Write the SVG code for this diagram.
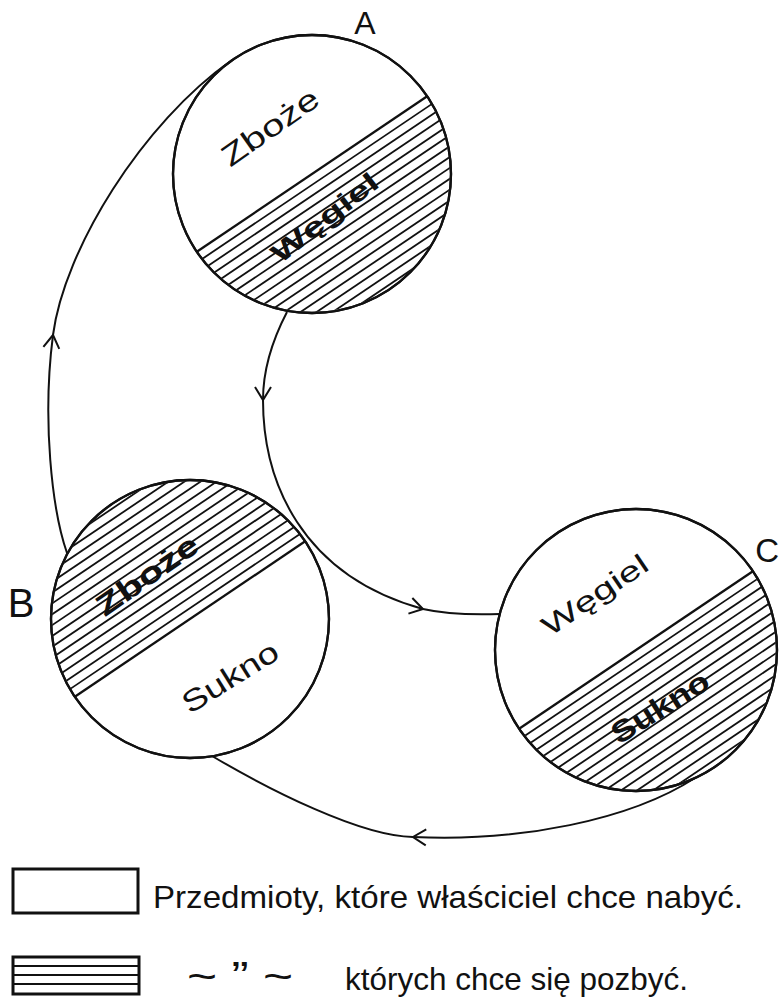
<svg xmlns="http://www.w3.org/2000/svg" width="782" height="1005" viewBox="0 0 782 1005">
<defs>
<style>
.circ{fill:#fff;stroke:#111;stroke-width:2.3}
.ring{fill:none;stroke:#111;stroke-width:2.3}
.hl line{stroke:#111;stroke-width:1.8}
.div{stroke:#111;stroke-width:2.3;fill:none}
.conn{fill:none;stroke:#111;stroke-width:2}
.lbl{font-family:"Liberation Sans",Arial,sans-serif;fill:#111;text-anchor:middle;dominant-baseline:central}
.lbl.b{font-weight:bold}
.cap{font-family:"Liberation Sans",Arial,sans-serif;fill:#111}
.leg{fill:#fff;stroke:#111;stroke-width:3}
.legl{stroke:#111;stroke-width:2.2}
</style>
<clipPath id="clip139"><circle cx="0" cy="0" r="138"/></clipPath>
<clipPath id="clip141"><circle cx="0" cy="0" r="140"/></clipPath>
<g id="hl" class="hl">
<line x1="-145" y1="9" x2="145" y2="9"/>
<line x1="-145" y1="18" x2="145" y2="18"/>
<line x1="-145" y1="27" x2="145" y2="27"/>
<line x1="-145" y1="36" x2="145" y2="36"/>
<line x1="-145" y1="45" x2="145" y2="45"/>
<line x1="-145" y1="54" x2="145" y2="54"/>
<line x1="-145" y1="63" x2="145" y2="63"/>
<line x1="-145" y1="72" x2="145" y2="72"/>
<line x1="-145" y1="81" x2="145" y2="81"/>
<line x1="-145" y1="90" x2="145" y2="90"/>
<line x1="-145" y1="99" x2="145" y2="99"/>
<line x1="-145" y1="108" x2="145" y2="108"/>
<line x1="-145" y1="117" x2="145" y2="117"/>
<line x1="-145" y1="126" x2="145" y2="126"/>
<line x1="-145" y1="135" x2="145" y2="135"/>
</g>
<marker id="chev" markerUnits="userSpaceOnUse" viewBox="-16 -10 20 20" markerWidth="20" markerHeight="20" refX="0" refY="0" orient="auto">
<path d="M -13 -8 L 0 0 L -13 8" fill="none" stroke="#111" stroke-width="2"/>
</marker>
</defs>

<g id="connectors">
<path id="edge-B-A" class="conn" marker-mid="url(#chev)" d="M 67 553 C 52 510, 42 420, 53 335 C 64 250, 142 123, 232 60"/>
<path id="edge-A-C" class="conn" marker-mid="url(#chev)" d="M 287 312 C 275 335, 263 365, 263 400 C 263 480, 300 575, 423 609 C 445 614, 470 615, 500 614"/>
<path id="edge-C-B" class="conn" marker-mid="url(#chev)" d="M 695 778 C 630 820, 520 842, 413 837 C 360 836, 270 790, 212 756"/>
</g>

<g id="node-A">
<circle class="circ" cx="312" cy="174" r="139"/>
<g transform="translate(312 174) rotate(-34)" clip-path="url(#clip139)"><use href="#hl"/></g>
<line class="div" x1="196.8" y1="251.7" x2="427.2" y2="96.3"/>
<circle class="ring" cx="312" cy="174" r="139"/>
<text class="lbl" x="270" y="127" font-size="30" textLength="112" lengthAdjust="spacingAndGlyphs" transform="rotate(-35 270 127)">Zboże</text>
<text class="lbl b" x="325" y="218" font-size="27" textLength="128" lengthAdjust="spacingAndGlyphs" transform="rotate(-38 325 218)">Węgiel</text>
<text class="cap" x="365" y="34" font-size="32" text-anchor="middle">A</text>
</g>

<g id="node-B">
<circle class="circ" cx="190" cy="619" r="139"/>
<g transform="translate(190 619) rotate(146)" clip-path="url(#clip139)"><use href="#hl"/></g>
<line class="div" x1="74.8" y1="696.7" x2="305.2" y2="541.3"/>
<circle class="ring" cx="190" cy="619" r="139"/>
<text class="lbl b" x="147" y="575" font-size="30" textLength="118" lengthAdjust="spacingAndGlyphs" transform="rotate(-35 147 575)">Zboże</text>
<text class="lbl" x="230" y="677" font-size="30" textLength="108" lengthAdjust="spacingAndGlyphs" transform="rotate(-32 230 677)">Sukno</text>
<text class="cap" x="21" y="617" font-size="40" text-anchor="middle">B</text>
</g>

<g id="node-C">
<circle class="circ" cx="636" cy="650" r="141"/>
<g transform="translate(636 650) rotate(-34)" clip-path="url(#clip141)"><use href="#hl"/></g>
<line class="div" x1="519.1" y1="728.8" x2="752.9" y2="571.2"/>
<circle class="ring" cx="636" cy="650" r="141"/>
<text class="lbl" x="595" y="595" font-size="28" textLength="122" lengthAdjust="spacingAndGlyphs" transform="rotate(-34 595 595)">Węgiel</text>
<text class="lbl b" x="660" y="707" font-size="30" textLength="110" lengthAdjust="spacingAndGlyphs" transform="rotate(-32 660 707)">Sukno</text>
<text class="cap" x="779" y="562" font-size="33" text-anchor="end">C</text>
</g>

<g id="legend">
<rect class="leg" x="13" y="869" width="125" height="44"/>
<text class="cap" x="153" y="908" font-size="32" textLength="590" lengthAdjust="spacingAndGlyphs">Przedmioty, które właściciel chce nabyć.</text>
<rect class="leg" x="13" y="957" width="126" height="37"/>
<line class="legl" x1="14" y1="966" x2="138" y2="966"/>
<line class="legl" x1="14" y1="975" x2="138" y2="975"/>
<line class="legl" x1="14" y1="984" x2="138" y2="984"/>
<text class="cap" x="187" y="990" font-size="40" textLength="106" lengthAdjust="spacingAndGlyphs">~ ” ~</text>
<text class="cap" x="345" y="990" font-size="32" textLength="343" lengthAdjust="spacingAndGlyphs">których chce się pozbyć.</text>
</g>
</svg>
